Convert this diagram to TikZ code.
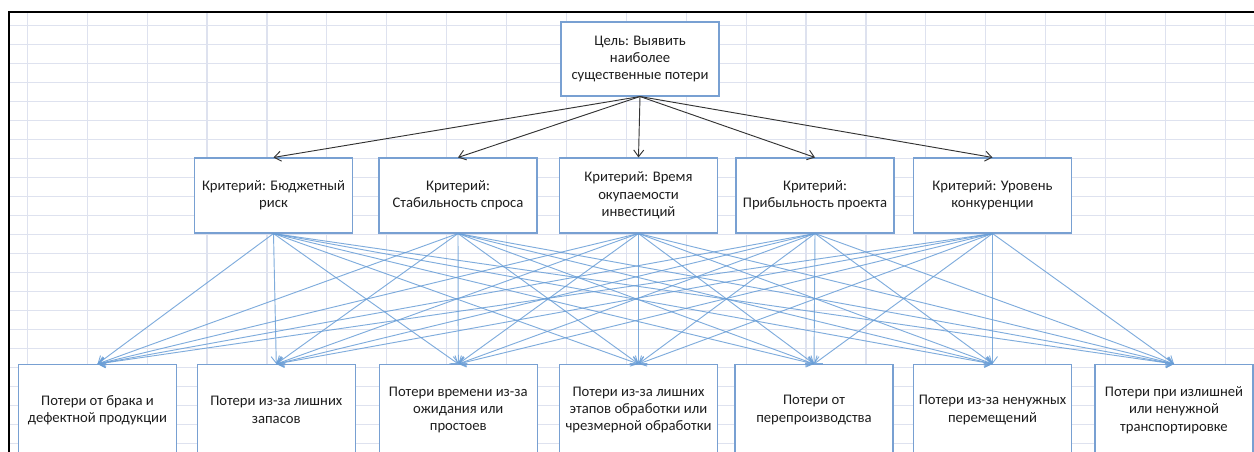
\documentclass[tikz,border=0pt]{standalone}
\usepackage{fontspec}
\setmainfont{Carlito}
\usetikzlibrary{arrows.meta}

\definecolor{gridc}{RGB}{222,226,239}
\definecolor{boxc}{RGB}{120,160,210}
\definecolor{linkc}{RGB}{105,158,215}
\definecolor{txtc}{RGB}{30,30,30}

\tikzset{
  box/.style={draw=boxc, line width=0.8pt, fill=white, align=center, inner sep=0pt,
    minimum width=118.5pt, font=\fontsize{11}{13}\selectfont, text=txtc},
  crit/.style={box, minimum height=56.25pt},
  loss/.style={box, minimum height=68.25pt},
  goalarr/.style={draw=black!80, line width=0.7pt, -{Straight Barb[length=5pt,width=7.5pt]}},
  linkarr/.style={draw=linkc, line width=0.7pt, opacity=0.85, -{Straight Barb[length=5pt,width=7.5pt]}}
}

\begin{document}
\begin{tikzpicture}[x=0.75pt, y=-0.75pt]
  \useasboundingbox (0,0) rectangle (1254,452);
  \clip (0,0) rectangle (1254,452);
  \fill[white] (0,0) rectangle (1254,452);

  %draw grid
  \foreach \k in {0,...,22}{
    \draw[gridc, line width=0.7pt] (9, 25+19*\k) -- (1254, 25+19*\k);
  }
  \foreach \k in {0,...,20}{
    \draw[gridc, line width=0.9pt] (27.3+59.9*\k, 12) -- (27.3+59.9*\k, 452);
  }
  \draw[black, line width=1.1pt] (9,452) -- (9,12) -- (1254,12);

  %goal
  \node[box, minimum height=55.5pt] (goal) at (640,59) {Цель: Выявить\\наиболее\\существенные потери};

  %criteria
  \foreach \i/\x/\txt in {1/273.5/{Критерий: Бюджетный\\риск},
                          2/458/{Критерий:\\Стабильность спроса},
                          3/638.5/{Критерий: Время\\окупаемости\\инвестиций},
                          4/815/{Критерий:\\Прибыльность проекта},
                          5/992.5/{Критерий: Уровень\\конкуренции}}{
    \node[crit] (c\i) at (\x,195.5) {\txt};
  }

  %losses
  \foreach \j/\x/\txt in {1/97.5/{Потери от брака и\\дефектной продукции},
                          2/276.3/{Потери из-за лишних\\запасов},
                          3/458.3/{Потери времени из-за\\ожидания или\\простоев},
                          4/638.5/{Потери из-за лишних\\этапов обработки или\\чрезмерной обработки},
                          5/814/{Потери от\\перепроизводства},
                          6/992.5/{Потери из-за ненужных\\перемещений},
                          7/1174/{Потери при излишней\\или ненужной\\транспортировке}}{
    \node[loss] (p\j) at (\x,410) {\txt};
  }

  %arrows
  \foreach \i in {1,...,5}{
    \draw[goalarr] (goal.south) -- (c\i.north);
  }
  \foreach \i in {1,...,5}{
    \foreach \j in {1,...,7}{
      \draw[linkarr] (c\i.south) -- (p\j.north);
    }
  }
\end{tikzpicture}
\end{document}
